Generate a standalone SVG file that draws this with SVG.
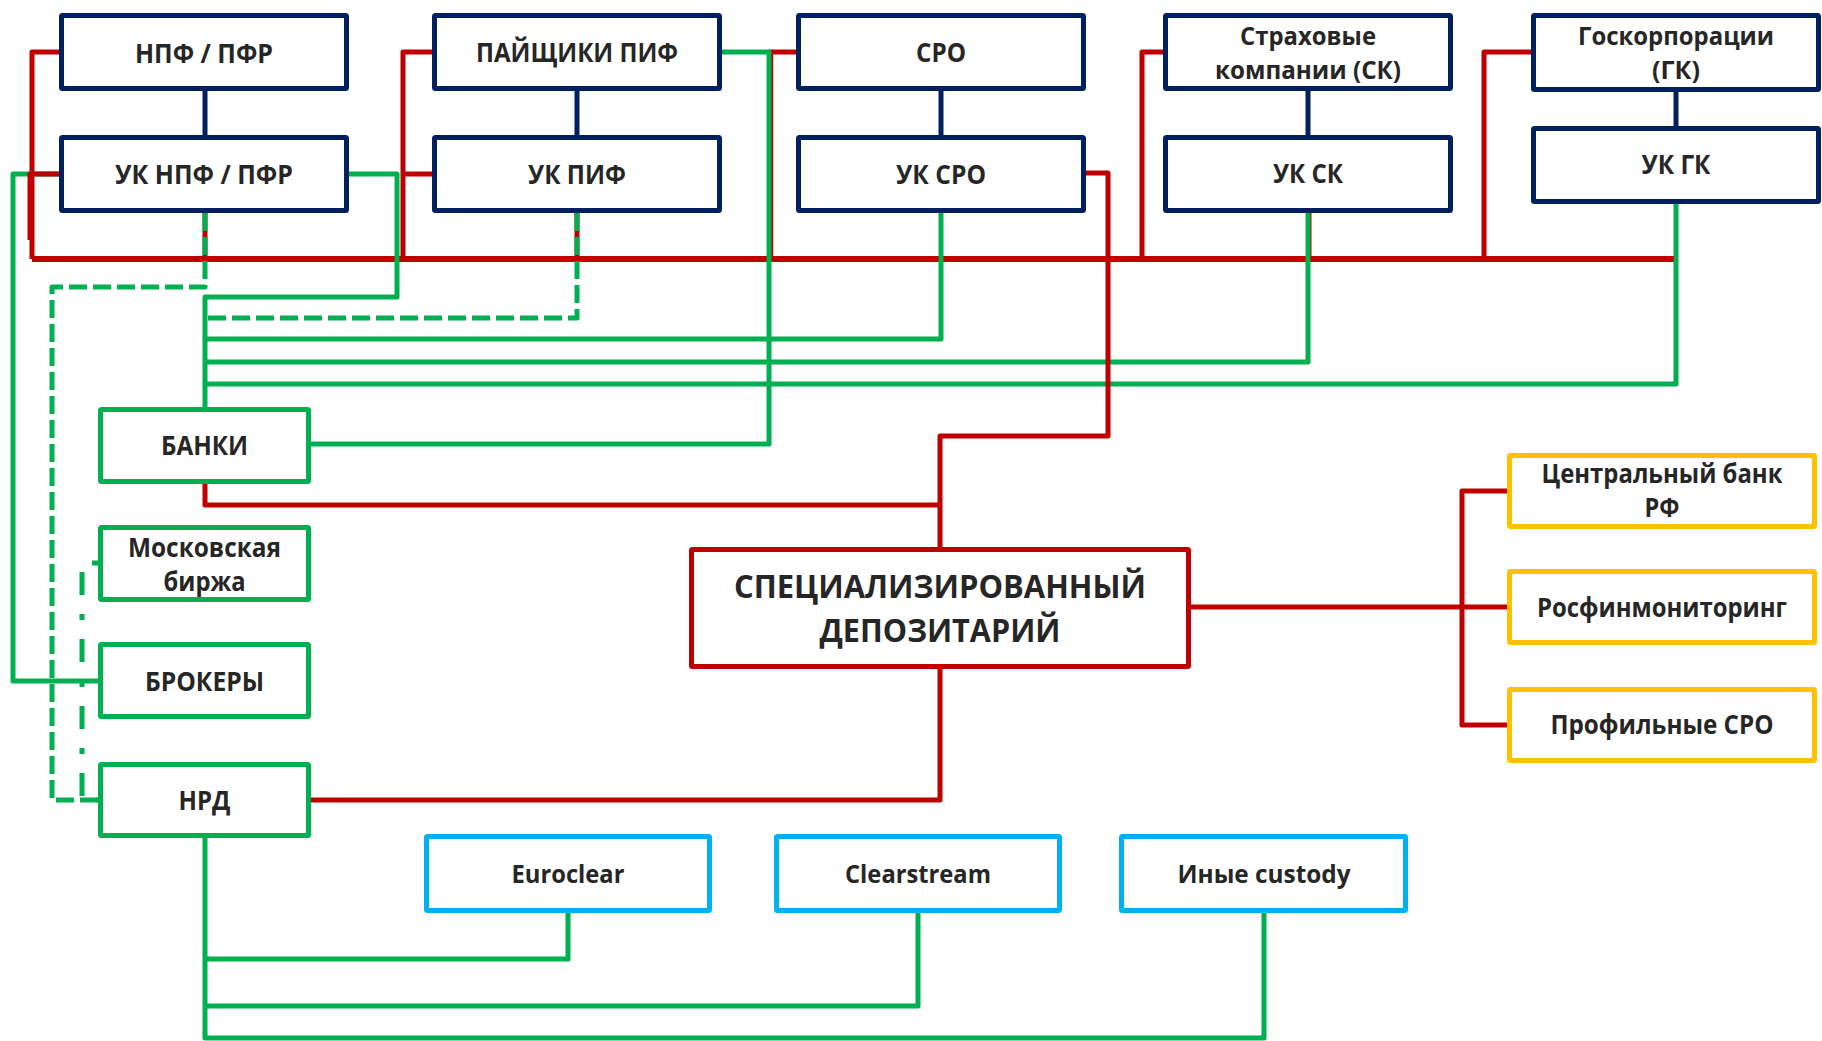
<svg xmlns="http://www.w3.org/2000/svg" width="1822" height="1041" viewBox="0 0 1822 1041">
<style>
.n rect{fill:#fff;stroke-width:5}
.navy rect{stroke:#002060}
.grn rect{stroke:#00B050}
.red rect{stroke:#C00000}
.yel rect{stroke:#FFC000}
.blu rect{stroke:#00B0F0}
text{font-family:"Open Sans","Liberation Sans",sans-serif;font-weight:700;font-size:26px;fill:#262626;text-anchor:middle}
text.s24{font-size:25px}
text.s32{font-size:33px}
.c path{fill:none;stroke-linejoin:round}
.r{stroke:#C00000;stroke-width:5}
.g{stroke:#00B050;stroke-width:5}
.nv{stroke:#002060;stroke-width:5}
.gd{stroke:#00B050;stroke-width:5;stroke-dasharray:18 6}
.gdd{stroke:#00B050;stroke-width:5;stroke-dasharray:6 19 23 19}
</style>
<rect width="1822" height="1041" fill="#fff"/>
<g id="connectors" class="c">
<path class="nv" d="M205,91V135M577,91V135M941,91V135M1308,91V135M1676,92V126"/>
<path class="r" style="stroke-width:6" d="M32,259H1676"/>
<path class="r" d="M59,52H32V259M205,213V259M432,52H403V259M432,174H403M577,213V259M1163,52H1142V259M1531,52H1484V259M1309,213V259"/>
<path class="r" style="stroke-width:2.5" d="M772,52V259"/>
<path class="r" d="M769,52H796"/>
<path class="r" d="M205,484V505H940M940,669V800H311M1191,607H1507M1507,491H1462V725H1507"/>
<path class="g" d="M59,174H13V681H98"/>
<path class="r" d="M59,174H30V240"/>
<path class="g" d="M349,174H397V297H205V407"/>
<path class="g" d="M205,339H941V213M205,362H1308V213M205,384H1676V204"/>
<path class="g" d="M722,52H769V444H311"/>
<path class="g" d="M205,838V1038H1264V913M205,959H568V913M205,1006H918V913"/>
<path class="r" d="M1086,173H1108V436H940V547"/>
<path class="gd" d="M205,213V287H52V800H98"/>
<path class="gd" d="M577,213V318H208"/>
<path class="gdd" d="M98,563H82V800H98"/>
</g>
<g id="npf" class="n navy"><rect x="61.5" y="15.5" width="285" height="73" rx="1"/><text x="204" y="63" textLength="138" lengthAdjust="spacingAndGlyphs">НПФ / ПФР</text></g>
<g id="uk-npf" class="n navy"><rect x="61.5" y="137.5" width="285" height="73" rx="1"/><text x="204" y="184" textLength="178" lengthAdjust="spacingAndGlyphs">УК НПФ / ПФР</text></g>
<g id="pif" class="n navy"><rect x="434.5" y="15.5" width="285" height="73" rx="1"/><text x="577" y="62" textLength="202" lengthAdjust="spacingAndGlyphs">ПАЙЩИКИ ПИФ</text></g>
<g id="uk-pif" class="n navy"><rect x="434.5" y="137.5" width="285" height="73" rx="1"/><text x="577" y="184" textLength="98" lengthAdjust="spacingAndGlyphs">УК ПИФ</text></g>
<g id="sro" class="n navy"><rect x="798.5" y="15.5" width="285" height="73" rx="1"/><text x="941" y="62" textLength="50" lengthAdjust="spacingAndGlyphs">СРО</text></g>
<g id="uk-sro" class="n navy"><rect x="798.5" y="137.5" width="285" height="73" rx="1"/><text x="941" y="184" textLength="90" lengthAdjust="spacingAndGlyphs">УК СРО</text></g>
<g id="sk" class="n navy"><rect x="1165.5" y="15.5" width="285" height="73" rx="1"/><text class="s24" x="1308" y="45" textLength="136" lengthAdjust="spacingAndGlyphs">Страховые</text><text class="s24" x="1308" y="79" textLength="186" lengthAdjust="spacingAndGlyphs">компании (СК)</text></g>
<g id="uk-sk" class="n navy"><rect x="1165.5" y="137.5" width="285" height="73" rx="1"/><text x="1308" y="183" textLength="70" lengthAdjust="spacingAndGlyphs">УК СК</text></g>
<g id="gk" class="n navy"><rect x="1533.5" y="15.5" width="285" height="74" rx="1"/><text class="s24" x="1676" y="45" textLength="196" lengthAdjust="spacingAndGlyphs">Госкорпорации</text><text class="s24" x="1676" y="79" textLength="48" lengthAdjust="spacingAndGlyphs">(ГК)</text></g>
<g id="uk-gk" class="n navy"><rect x="1533.5" y="128.5" width="285" height="73" rx="1"/><text x="1676" y="174" textLength="69" lengthAdjust="spacingAndGlyphs">УК ГК</text></g>
<g id="banki" class="n grn"><rect x="100.5" y="409.5" width="208" height="72" rx="1"/><text x="204.5" y="455" textLength="87" lengthAdjust="spacingAndGlyphs">БАНКИ</text></g>
<g id="moex" class="n grn"><rect x="100.5" y="527.5" width="208" height="72" rx="1"/><text x="204.5" y="557" textLength="153" lengthAdjust="spacingAndGlyphs">Московская</text><text x="204.5" y="591" textLength="82" lengthAdjust="spacingAndGlyphs">биржа</text></g>
<g id="brokers" class="n grn"><rect x="100.5" y="644.5" width="208" height="72" rx="1"/><text x="204.5" y="691" textLength="119" lengthAdjust="spacingAndGlyphs">БРОКЕРЫ</text></g>
<g id="nrd" class="n grn"><rect x="100.5" y="764.5" width="208" height="71" rx="1"/><text x="204.5" y="810" textLength="52" lengthAdjust="spacingAndGlyphs">НРД</text></g>
<g id="sd" class="n red"><rect x="691.5" y="549.5" width="497" height="117" rx="1"/><text class="s32" x="940" y="598" textLength="412" lengthAdjust="spacingAndGlyphs">СПЕЦИАЛИЗИРОВАННЫЙ</text><text class="s32" x="940" y="642" textLength="241" lengthAdjust="spacingAndGlyphs">ДЕПОЗИТАРИЙ</text></g>
<g id="cb" class="n yel"><rect x="1509.5" y="455.5" width="305" height="71" rx="1"/><text x="1662" y="483" textLength="241" lengthAdjust="spacingAndGlyphs">Центральный банк</text><text x="1662" y="517" textLength="35" lengthAdjust="spacingAndGlyphs">РФ</text></g>
<g id="rfm" class="n yel"><rect x="1509.5" y="571.5" width="305" height="71" rx="1"/><text x="1662" y="617" textLength="250" lengthAdjust="spacingAndGlyphs">Росфинмониторинг</text></g>
<g id="psro" class="n yel"><rect x="1509.5" y="689.5" width="305" height="71" rx="1"/><text x="1662" y="734" textLength="223" lengthAdjust="spacingAndGlyphs">Профильные СРО</text></g>
<g id="euroclear" class="n blu"><rect x="426.5" y="836.5" width="283" height="74" rx="1"/><text class="s24" x="568" y="883" textLength="113" lengthAdjust="spacingAndGlyphs">Euroclear</text></g>
<g id="clearstream" class="n blu"><rect x="776.5" y="836.5" width="283" height="74" rx="1"/><text class="s24" x="918" y="883" textLength="146" lengthAdjust="spacingAndGlyphs">Clearstream</text></g>
<g id="custody" class="n blu"><rect x="1121.5" y="836.5" width="284" height="74" rx="1"/><text class="s24" x="1264" y="883" textLength="173" lengthAdjust="spacingAndGlyphs">Иные custody</text></g>
</svg>
